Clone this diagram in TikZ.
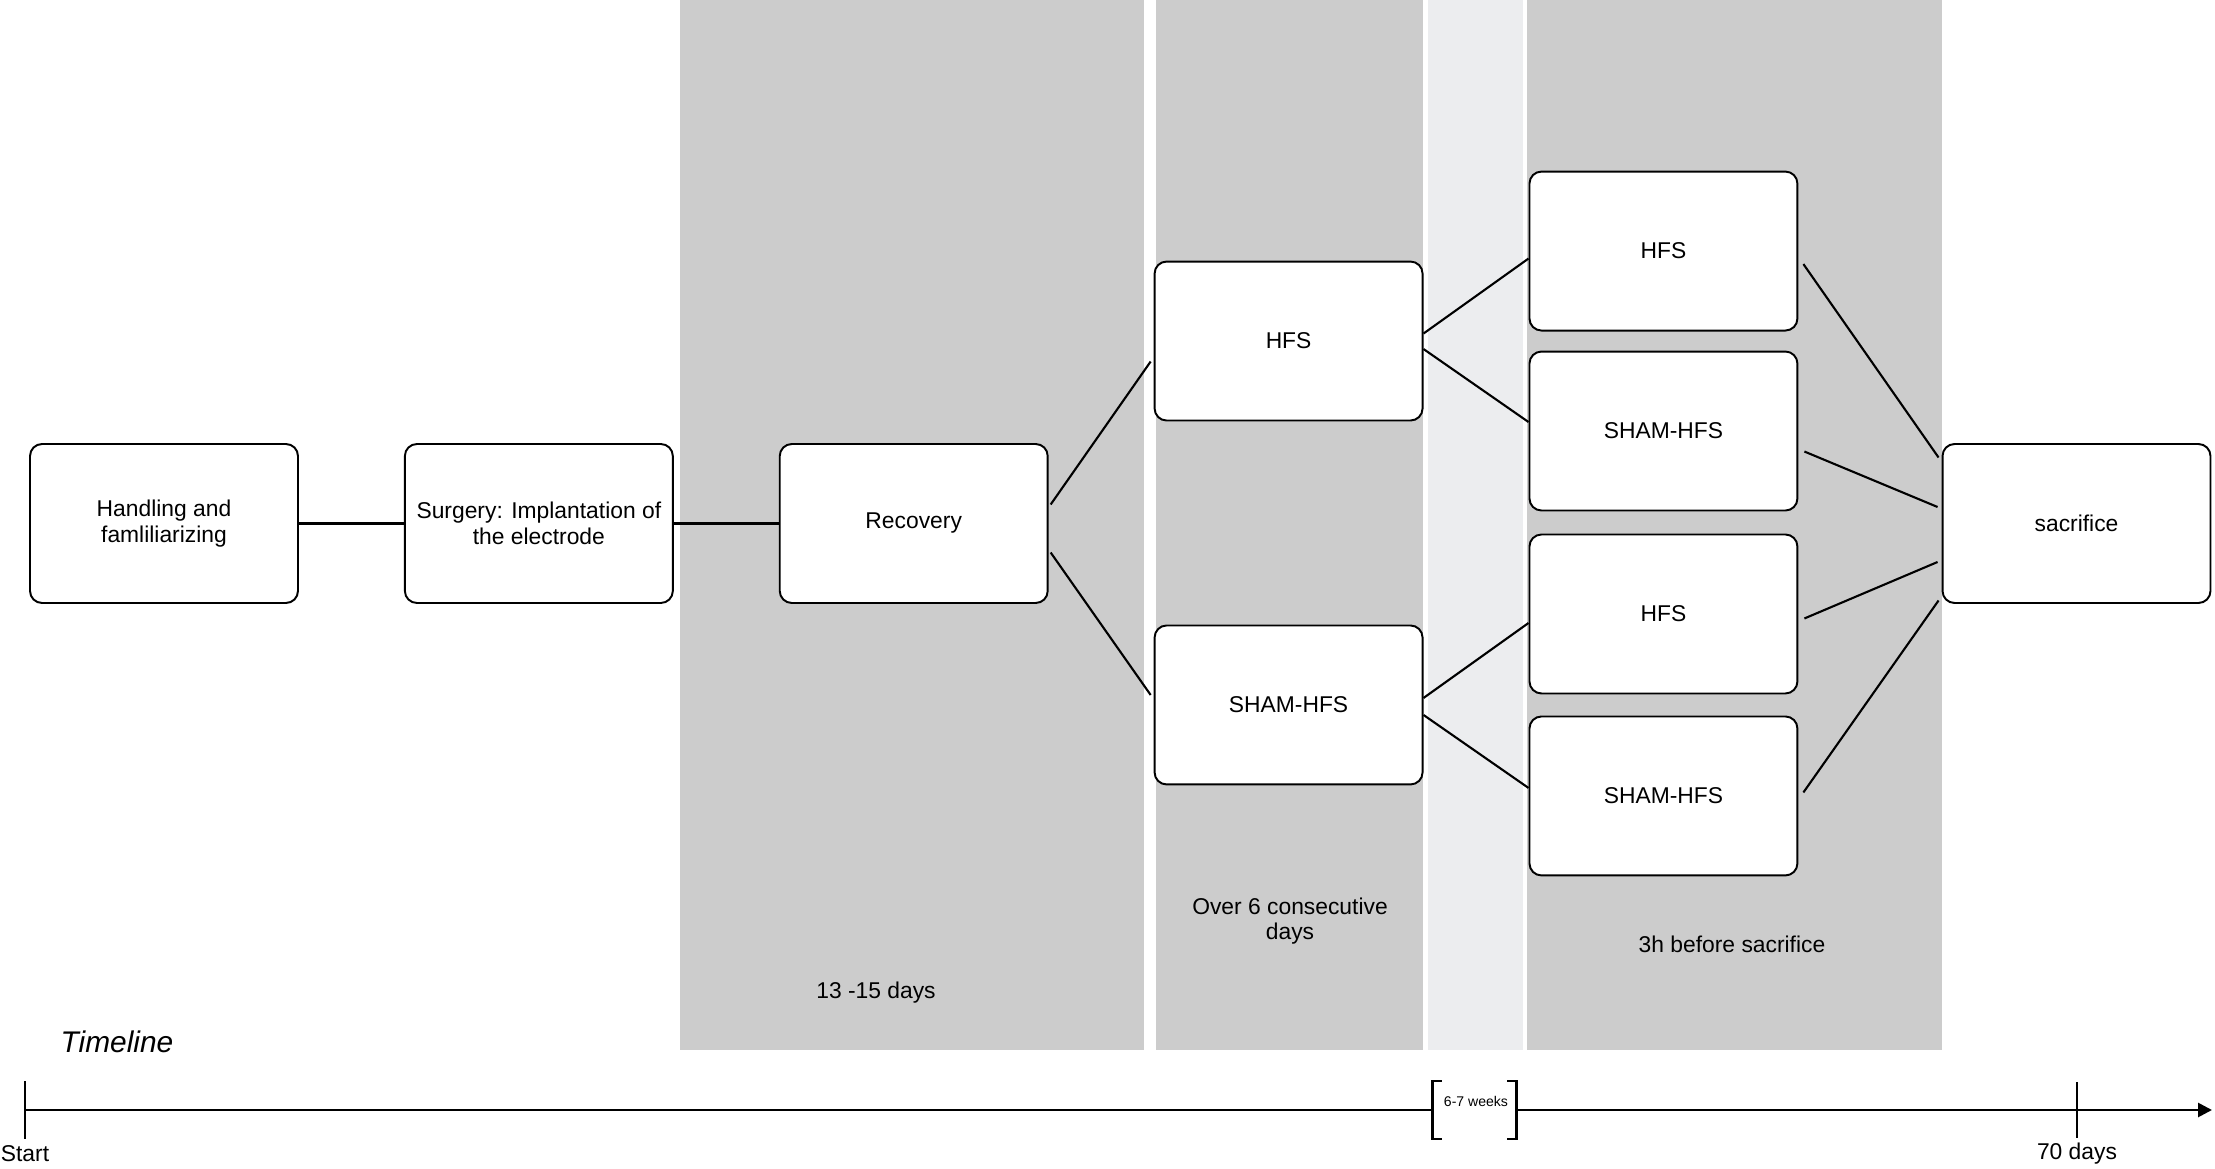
\documentclass[tikz,border=0pt]{standalone}
\usepackage{fontspec}
\setmainfont{Liberation Sans}
\usepackage{tikz}
\usetikzlibrary{positioning,shapes,arrows.meta,calc}
\pgfdeclarelayer{background}
\pgfsetlayers{background,main}

\definecolor{bandgray}{HTML}{CCCCCC}
\definecolor{gapgray}{HTML}{ECEDEF}
\newcommand{\boxfont}{\fontsize{13}{14.5}\selectfont}

\begin{document}
\begin{tikzpicture}[x=0.02cm, y=-0.02cm, node distance=2.10cm,
    box/.style={draw, rectangle, rounded corners=0.24cm, minimum width=5.36cm, minimum height=3.18cm, fill=white, align=center, line width=1.1pt, font=\boxfont},
    link/.style={line width=1.2pt},
    axis/.style={line width=1.5pt}]
            \useasboundingbox (0,0) rectangle (2215,1169);

            % periods in the background
            \begin{pgfonlayer}{background}
            \fill[bandgray](680,0) rectangle (1144,1050);
            \fill[bandgray](1156,0) rectangle (1423,1050);
            \fill[gapgray](1428,0) rectangle (1523,1050);
            \fill[bandgray](1527,0) rectangle (1942,1050);
            \end{pgfonlayer}

            \node[box](handling) at (164,523.5){Handling and\\famliliarizing};
            \node[box, right=of handling](surgery){Surgery: Implantation of\\the electrode};
            \draw[link](handling.east)--(surgery.west);
            \node[box, right=of surgery](recovery){Recovery};
            \draw[link](surgery.east)--(recovery.west);

            \node[box, right=of recovery, yshift=3.65cm](hfs-a){HFS};
            \node[box, right=of recovery, yshift=-3.63cm](sham-a){SHAM-HFS};
            \draw[link]([xshift=0.04cm, yshift=0.38cm]recovery.east)--([xshift=-0.06cm, yshift=-0.41cm]hfs-a.west);
            \draw[link]([xshift=0.04cm, yshift=-0.58cm]recovery.east)--([xshift=-0.06cm, yshift=0.2cm]sham-a.west);

            \node[box, right=of hfs-a, yshift=1.8cm](hfs-aa){HFS};
            \node[box, right=of hfs-a, yshift=-1.8cm](sham-aa){SHAM-HFS};
            \draw[link]([yshift=0.15cm]hfs-a.east)--([yshift=-0.15cm]hfs-aa.west);
            \draw[link]([yshift=-0.16cm]hfs-a.east)--([yshift=0.18cm]sham-aa.west);

            \node[box, right=of sham-a, yshift=1.82cm](hfs-ab){HFS};
            \node[box, right=of sham-a, yshift=-1.82cm](sham-ab){SHAM-HFS};
            \draw[link]([yshift=0.14cm]sham-a.east)--([yshift=-0.18cm]hfs-ab.west);
            \draw[link]([yshift=-0.2cm]sham-a.east)--([yshift=0.16cm]sham-ab.west);

            \node[box](sacrifice) at (2076.5,523.5){sacrifice};
            \draw[link]([xshift=0.1cm, yshift=-0.26cm]hfs-aa.east)--([xshift=-0.06cm, yshift=1.32cm]sacrifice.west);
            \draw[link]([xshift=0.12cm, yshift=-0.41cm]sham-aa.east)--([xshift=-0.08cm, yshift=0.33cm]sacrifice.west);
            \draw[link]([xshift=0.12cm, yshift=-0.09cm]hfs-ab.east)--([xshift=-0.08cm, yshift=-0.77cm]sacrifice.west);
            \draw[link]([xshift=0.1cm, yshift=0.07cm]sham-ab.east)--([xshift=-0.06cm, yshift=-1.54cm]sacrifice.west);

            % period labels
            \node[font=\boxfont](recovery-days) at (876,993){13 -15 days};
            \node[font=\boxfont, align=center](hfs-days) at (1290,921){Over 6 consecutive\\days};
            \node[font=\boxfont](sham-days) at (1732,944){3h before sacrifice};

            % timeline
            \node[font=\fontsize{17}{20}\selectfont\itshape](timeline) at (117,1042){Timeline};
            \coordinate (start) at (25,1110);
            \coordinate (day70) at (2077,1110);
            \coordinate (end) at (2212,1110);
            \node[rectangle, minimum width=1.66cm, minimum height=1.14cm, inner sep=0pt](weeks) at (1474.5,1110){};
            \node[font=\fontsize{8}{9}\selectfont](weeks-label) at (1476,1101){6-7 weeks};
            \draw[axis]([xshift=0.18cm]weeks.north west)--(weeks.north west)--(weeks.south west)--([xshift=0.18cm]weeks.south west);
            \draw[axis]([xshift=-0.18cm]weeks.north east)--(weeks.north east)--(weeks.south east)--([xshift=-0.18cm]weeks.south east);
            \draw[axis](start)--(weeks.west);
            \draw[axis,-{Triangle[length=0.28cm,width=0.28cm]}](weeks.east)--(end);
            \draw[axis]([yshift=0.58cm]start)--([yshift=-0.58cm]start);
            \draw[axis]([yshift=0.56cm]day70)--([yshift=-0.56cm]day70);
            \node[font=\boxfont](start-label) at (25,1154){Start};
            \node[font=\boxfont](day70-label) at (2077,1154){70 days};
        \end{tikzpicture}
\end{document}
